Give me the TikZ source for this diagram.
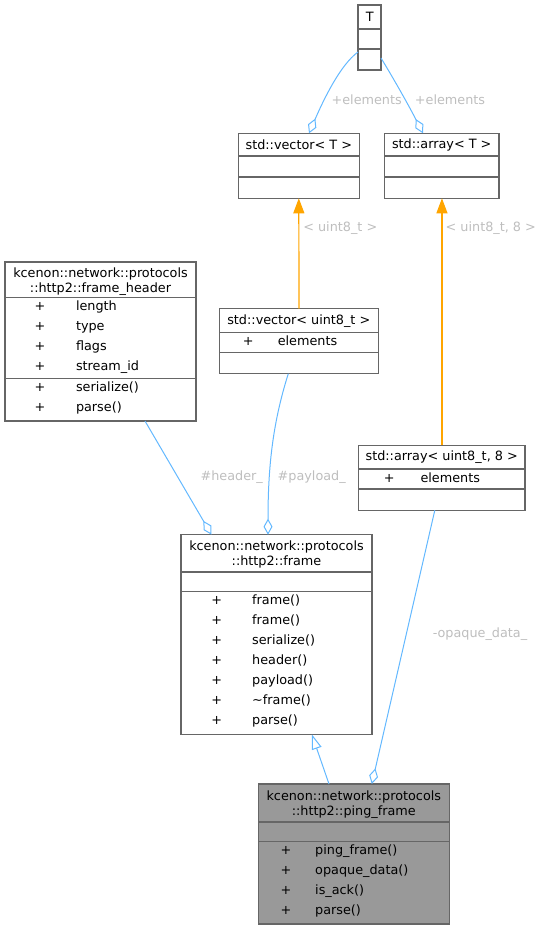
\documentclass[tikz,border=0pt]{standalone}
\usepackage{fontspec}
\setmainfont{DejaVu Sans}
\usetikzlibrary{arrows.meta,calc}
\definecolor{boxgray}{HTML}{666666}
\definecolor{edgeblue}{HTML}{63B8FF}
\definecolor{tmplorange}{HTML}{FFA500}
\definecolor{labelgray}{HTML}{BEBEBE}
\definecolor{pingfill}{HTML}{999999}
\begin{document}
\begin{tikzpicture}[x=1pt,y=-1pt,
  every node/.style={font=\fontsize{12.8}{14.5}\selectfont, inner sep=0pt, outer sep=0pt},
  cls/.style={draw=boxgray, line width=1.1pt, anchor=north west, fill=white},
  sepline/.style={draw=boxgray, line width=1.1pt},
  ttl/.style={anchor=center, align=center},
  pl/.style={anchor=base},
  mem/.style={anchor=base west},
  lbl/.style={text=labelgray, anchor=center},
  agg/.style={draw=edgeblue, line width=1pt, -{Diamond[open, length=16pt, width=9pt]}},
  tmpl/.style={draw=tmplorange, line width=1.2pt, -{Triangle[length=15pt, width=11pt]}},
  inh/.style={draw=edgeblue, line width=1pt, -{Triangle[open, length=15pt, width=10pt]}},
]
\useasboundingbox (0,0) rectangle (543,929);

% ---- T
\node[cls, minimum width=23, minimum height=65] (T) at (358,5) {};
\draw[sepline] (358,29) -- (381,29);
\draw[sepline] (358,49) -- (381,49);
\node[ttl] (T-t) at (369.7,16.9) {T};

% ---- std::vector< T >
\node[cls, minimum width=121, minimum height=65] (vecT) at (238.3,133.3) {};
\draw[sepline] (238.3,156) -- (359.3,156);
\draw[sepline] (238.3,177) -- (359.3,177);
\node[ttl] (vecT-t) at (298.8,145) {std::vector< T >};

% ---- std::array< T >
\node[cls, minimum width=114.7, minimum height=65] (arrT) at (384.3,133.3) {};
\draw[sepline] (384.3,156) -- (499,156);
\draw[sepline] (384.3,177) -- (499,177);
\node[ttl] (arrT-t) at (441.7,145) {std::array< T >};

% ---- frame_header
\node[cls, minimum width=191, minimum height=159] (fh) at (5,262) {};
\draw[sepline] (5,297.3) -- (196,297.3);
\draw[sepline] (5,378.3) -- (196,378.3);
\node[ttl] (fh-t) at (100.5,281.5) {kcenon::network::protocols\\::http2::frame\_header};
\node[pl] (fh-p1) at (40,310.5) {+};
\node[mem] (fh-a1) at (76,310.5) {length};
\node[pl] (fh-p2) at (40,330.5) {+};
\node[mem] (fh-a2) at (76,330.5) {type};
\node[pl] (fh-p3) at (40,350.5) {+};
\node[mem] (fh-a3) at (76,350.5) {flags};
\node[pl] (fh-p4) at (40,370.5) {+};
\node[mem] (fh-a4) at (76,370.5) {stream\_id};
\node[pl] (fh-p5) at (40,391.5) {+};
\node[mem] (fh-m1) at (76,391.5) {serialize()};
\node[pl] (fh-p6) at (40,411.5) {+};
\node[mem] (fh-m2) at (76,411.5) {parse()};

% ---- std::vector< uint8_t >
\node[cls, minimum width=159.4, minimum height=65] (vecU8) at (219.3,308.7) {};
\draw[sepline] (219.3,332.3) -- (378.7,332.3);
\draw[sepline] (219.3,352.3) -- (378.7,352.3);
\node[ttl] (vecU8-t) at (298.8,320.7) {std::vector< uint8\_t >};
\node[pl] (vecU8-p1) at (248.3,345.5) {+};
\node[mem] (vecU8-a1) at (277.8,345.5) {elements};

% ---- std::array< uint8_t, 8 >
\node[cls, minimum width=166.7, minimum height=65] (arrU8) at (358.3,445.3) {};
\draw[sepline] (358.3,469) -- (525,469);
\draw[sepline] (358.3,489) -- (525,489);
\node[ttl] (arrU8-t) at (441.7,456.9) {std::array< uint8\_t, 8 >};
\node[pl] (arrU8-p1) at (389.3,482.2) {+};
\node[mem] (arrU8-a1) at (420.5,482.2) {elements};

% ---- frame
\node[cls, minimum width=191, minimum height=199.6] (frame) at (181,534.7) {};
\draw[sepline] (181,572) -- (372,572);
\draw[sepline] (181,591.7) -- (372,591.7);
\node[ttl] (frame-t) at (276.5,554.7) {kcenon::network::protocols\\::http2::frame};
\node[pl] (frame-p1) at (216.7,604.9) {+};
\node[mem] (frame-m1) at (252.2,604.9) {frame()};
\node[pl] (frame-p2) at (216.7,624.9) {+};
\node[mem] (frame-m2) at (252.2,624.9) {frame()};
\node[pl] (frame-p3) at (216.7,644.9) {+};
\node[mem] (frame-m3) at (252.2,644.9) {serialize()};
\node[pl] (frame-p4) at (216.7,664.9) {+};
\node[mem] (frame-m4) at (252.2,664.9) {header()};
\node[pl] (frame-p5) at (216.7,684.9) {+};
\node[mem] (frame-m5) at (252.2,684.9) {payload()};
\node[pl] (frame-p6) at (216.7,704.9) {+};
\node[mem] (frame-m6) at (252.2,704.9) {\textasciitilde frame()};
\node[pl] (frame-p7) at (216.7,724.9) {+};
\node[mem] (frame-m7) at (252.2,724.9) {parse()};

% ---- ping_frame
\node[cls, fill=pingfill, minimum width=191, minimum height=140] (ping) at (258.3,784) {};
\draw[sepline] (258.3,822) -- (449.3,822);
\draw[sepline] (258.3,841.7) -- (449.3,841.7);
\node[ttl] (ping-t) at (353.8,804.7) {kcenon::network::protocols\\::http2::ping\_frame};
\node[pl] (ping-p1) at (286,854.9) {+};
\node[mem] (ping-m1) at (315.2,854.9) {ping\_frame()};
\node[pl] (ping-p2) at (286,874.9) {+};
\node[mem] (ping-m2) at (315.2,874.9) {opaque\_data()};
\node[pl] (ping-p3) at (286,894.9) {+};
\node[mem] (ping-m3) at (315.2,894.9) {is\_ack()};
\node[pl] (ping-p4) at (286,914.9) {+};
\node[mem] (ping-m4) at (315.2,914.9) {parse()};

% ---- connectors
\draw[agg] ($(T.north west)+(0,47)$) .. controls (340,65) and (323,101) .. ($(vecT.north west)+(70.7,0)$);
\draw[agg] ($(T.north east)+(0,53)$) .. controls (392,76) and (408,104) .. ($(arrT.north west)+(38.7,0)$);
\node[lbl] (lbl-e1) at (366.7,100) {+elements};
\node[lbl] (lbl-e2) at (450,100) {+elements};

\draw[tmpl] (vecU8.north) -- (vecT.south);
\draw[tmpl] ($(arrU8.north)+(0.3,0)$) -- ($(arrT.south)+(0.3,0)$);
\node[lbl] (lbl-u1) at (340.3,228.3) {< uint8\_t >};
\node[lbl] (lbl-u2) at (490.8,228.3) {< uint8\_t, 8 >};

\draw[agg] ($(fh.south west)+(140,0)$) -- ($(frame.north west)+(30.5,0)$);
\draw[agg] ($(vecU8.south west)+(69,0)$) .. controls (272,425) and (268,470) .. ($(frame.north west)+(87,0)$);
\node[lbl] (lbl-h) at (231.7,476.7) {\#header\_};
\node[lbl] (lbl-p) at (311.7,476.7) {\#payload\_};

\draw[agg] ($(arrU8.south west)+(76.5,0)$) -- ($(ping.north west)+(113.5,0)$);
\node[lbl] (lbl-o) at (480,633.8) {-opaque\_data\_};

\draw[inh] ($(ping.north west)+(70.7,0)$) -- ($(frame.south west)+(130.8,0)$);
\end{tikzpicture}
\end{document}
